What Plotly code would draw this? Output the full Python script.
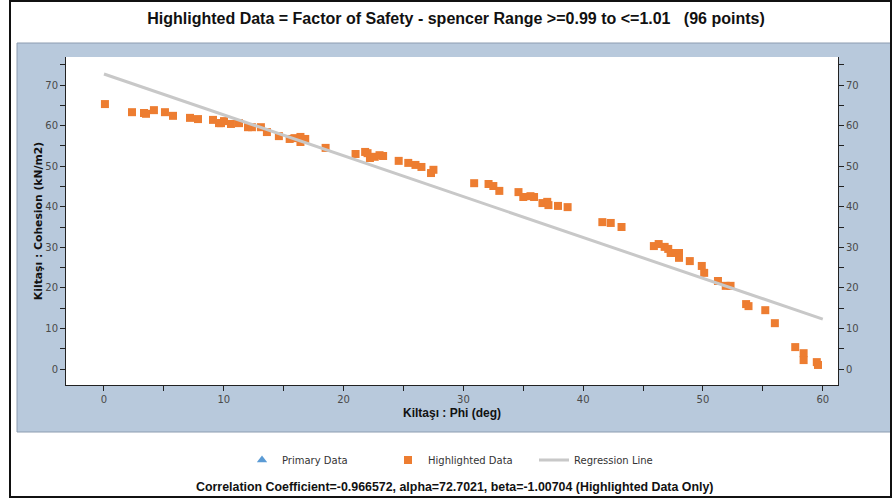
import plotly.graph_objects as go

# Highlighted data (Phi in deg, Cohesion in kN/m2)
phi = [0.08, 2.34, 3.34, 3.51, 4.17, 5.09, 5.76, 7.18, 7.85, 9.10, 9.60, 9.77, 10.02,
       10.6, 11.27, 12.02, 12.35, 13.1, 13.6, 14.6, 15.5, 15.9, 16.4, 16.4, 16.8,
       18.5, 21.0, 21.8, 22.0, 22.2, 22.6, 23.0, 23.3, 24.6, 25.4, 26.0, 26.5,
       27.3, 27.5, 30.9, 32.1, 32.5, 33.0, 34.6, 35.0, 35.6, 35.9, 36.6, 37.0,
       37.1, 37.9, 38.7, 41.6, 42.3, 43.2, 45.9, 46.3, 46.8, 47.1, 47.3, 47.7,
       48.0, 48.0, 48.9, 49.9, 50.1, 51.25, 51.9, 52.3, 53.6, 53.8, 55.2, 56.0,
       57.7, 58.4, 58.4, 59.5, 59.6]
cohesion = [65.3, 63.3, 63.1, 62.9, 63.8, 63.3, 62.4, 61.9, 61.6, 61.4, 60.6, 60.6, 61.1,
            60.4, 60.6, 59.6, 59.6, 59.6, 58.4, 57.4, 56.7, 56.9, 57.2, 55.95, 56.7,
            54.5, 53.0, 53.5, 53.2, 52.0, 52.3, 52.7, 52.5, 51.3, 50.8, 50.3, 49.8,
            48.3, 49.1, 45.8, 45.6, 45.1, 43.9, 43.6, 42.4, 42.6, 42.4, 40.9, 41.2,
            40.4, 40.2, 39.9, 36.2, 36.0, 35.0, 30.3, 30.8, 30.1, 29.6, 28.6, 28.6,
            28.6, 27.4, 26.6, 25.4, 23.7, 21.7, 20.5, 20.5, 16.0, 15.5, 14.5, 11.3,
            5.4, 3.9, 2.2, 1.7, 1.0]

# Regression line endpoints (alpha=72.7021, beta=-1.00704)
reg_x = [0, 60]
reg_y = [72.70, 12.28]

x_ticks = [0, 10, 20, 30, 40, 50, 60]
y_ticks = [0, 10, 20, 30, 40, 50, 60, 70]

title_text = "Highlighted Data = Factor of Safety - spencer Range >=0.99 to <=1.01   (96 points)"
footer_text = "Correlation Coefficient=-0.966572, alpha=72.7021, beta=-1.00704 (Highlighted Data Only)"

W, H = 892, 500
L, R, T, B = 66, 54, 57, 115
PW, PH = W - L - R, H - T - B

def px(xp):
    return (xp - L) / PW

def py(yp):
    return (H - B - yp) / PH

fig = go.Figure()

fig.add_trace(go.Scatter(
    x=[None], y=[None], mode="markers", name="Primary Data",
    marker=dict(symbol="triangle-up", size=9, color="#5b9bd5"),
))
fig.add_trace(go.Scatter(
    x=phi, y=cohesion, mode="markers", name="Highlighted Data",
    marker=dict(symbol="square", size=8, color="#ed7d31"),
))
fig.add_trace(go.Scatter(
    x=reg_x, y=reg_y, mode="lines", name="Regression Line",
    line=dict(color="#c8c8c8", width=3),
))
# dummy trace so that the right axis is drawn
fig.add_trace(go.Scatter(
    x=[None], y=[None], yaxis="y2", showlegend=False, hoverinfo="skip",
))

tickfont = dict(family="DejaVu Sans", size=10, color="#4a4a4a")
axis_common = dict(
    showgrid=False, zeroline=False, showline=True, linecolor="#222222", linewidth=1,
    ticks="outside", ticklen=5, tickcolor="#222222", tickfont=tickfont,
)
minor = dict(dtick=5, tick0=0, ticks="outside", ticklen=5, tickcolor="#222222", showgrid=False)

fig.update_layout(
    width=W, height=H,
    margin=dict(l=L, r=R, t=T, b=B, autoexpand=False),
    paper_bgcolor="white", plot_bgcolor="white",
    title=dict(text=title_text, x=px(456), xanchor="center", xref="paper",
               y=1 - 18 / H, yanchor="middle",
               font=dict(family="Liberation Sans", size=16, color="#111111", weight="bold")),
    xaxis=dict(
        range=[-3.17, 61.27], tickvals=x_ticks, **axis_common, minor=minor,
        title=dict(text="<b>Kiltaşı : Phi (deg)</b>", standoff=4,
                   font=dict(family="Liberation Sans", size=12, color="#111111")),
    ),
    yaxis=dict(
        range=[-3.94, 76.9], tickvals=y_ticks, **axis_common, minor=minor,
        title=dict(text="<b>Kiltaşı : Cohesion (kN/m2)</b>", standoff=0,
                   font=dict(family="DejaVu Sans", size=10.8, color="#111111")),
    ),
    yaxis2=dict(
        range=[-3.94, 76.9], tickvals=y_ticks, overlaying="y", side="right",
        **axis_common, minor=minor,
    ),
    legend=dict(
        orientation="h", x=px(242), xanchor="left", y=py(460), yanchor="middle",
        font=dict(family="DejaVu Sans", size=10, color="#333333"),
        bgcolor="rgba(0,0,0,0)", entrywidth=101, entrywidthmode="pixels",
    ),
    shapes=[
        dict(type="rect", xref="paper", yref="paper", layer="below",
             x0=px(17), x1=px(893), y0=py(432), y1=py(43),
             fillcolor="#b8c9dc", line=dict(color="#8c9cb0", width=1)),
        dict(type="rect", xref="paper", yref="paper", layer="below",
             x0=0, x1=1, y0=0, y1=1, fillcolor="white", line=dict(width=0)),
        dict(type="rect", xref="paper", yref="paper", layer="above",
             x0=px(10), x1=px(891), y0=py(497), y1=py(1),
             fillcolor="rgba(0,0,0,0)", line=dict(color="#111111", width=2)),
    ],
    annotations=[
        dict(text="<b>" + footer_text + "</b>", xref="paper", yref="paper",
             x=px(455), y=py(487), xanchor="center", yanchor="middle", showarrow=False,
             font=dict(family="Liberation Sans", size=12.4, color="#111111")),
    ],
)

fig.write_html("out.html", config={"displayModeBar": False},
               post_script="document.body.style.margin='0px';")
